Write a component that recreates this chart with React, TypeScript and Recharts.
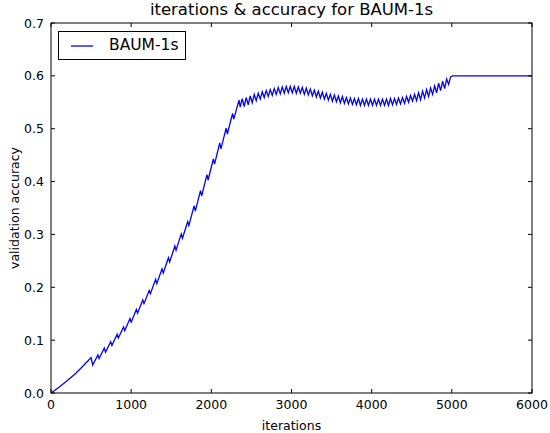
import { LineChart, Line, XAxis, YAxis } from 'recharts';

const FONT = '"DejaVu Sans", sans-serif';

// warm-up, before the zigzag starts
const warmupIters = [0, 100, 200, 300, 400, 500];
const warmupAcc = [0.0, 0.011, 0.023, 0.036, 0.051, 0.067];

// steep rise with sawtooth (trough, peak, trough, ...)
const riseIters = [
  520, 585, 600, 665, 680, 745, 760, 825, 840, 905, 920, 985, 1000, 1065, 1080, 1145,
  1160, 1225, 1240, 1305, 1320, 1385, 1400, 1465, 1480, 1545, 1560, 1625, 1640, 1705,
  1720, 1785, 1800, 1865, 1880, 1945, 1960, 2025, 2040, 2105, 2120, 2185, 2200, 2265,
  2280, 2345, 2360,
];
const riseAcc = [
  0.053, 0.072, 0.065, 0.085, 0.077, 0.097, 0.09, 0.111, 0.104, 0.125, 0.118, 0.141,
  0.134, 0.158, 0.151, 0.176, 0.169, 0.194, 0.188, 0.215, 0.207, 0.235, 0.227, 0.256,
  0.248, 0.278, 0.27, 0.301, 0.293, 0.324, 0.317, 0.354, 0.344, 0.383, 0.373, 0.413,
  0.403, 0.443, 0.433, 0.473, 0.462, 0.501, 0.49, 0.529, 0.518, 0.554, 0.541,
];

// plateau, fast oscillation
const plateauIters = [
  2385, 2410, 2435, 2460, 2485, 2510, 2535, 2560, 2585, 2610, 2635, 2660, 2685, 2710,
  2735, 2760, 2785, 2810, 2835, 2860, 2885, 2910, 2935, 2960, 2985, 3010, 3035, 3060,
  3085, 3110, 3135, 3160, 3185, 3210, 3235, 3260, 3285, 3310, 3335, 3360, 3385, 3410,
  3435, 3460, 3485, 3510, 3535, 3560, 3585, 3610, 3635, 3660, 3685, 3710, 3735, 3760,
  3785, 3810, 3835, 3860, 3885, 3910, 3935, 3960, 3985, 4010, 4035, 4060, 4085, 4110,
  4135, 4160, 4185, 4210, 4235, 4260, 4285, 4310, 4335, 4360, 4385, 4410, 4435, 4460,
  4485, 4510, 4535, 4560, 4585, 4610, 4635, 4660, 4685, 4710, 4735, 4760, 4785, 4810,
  4835, 4860, 4885, 4910, 4935, 4960, 4985,
];
const plateauAcc = [
  0.557, 0.542, 0.559, 0.545, 0.562, 0.549, 0.565, 0.553, 0.567, 0.556, 0.57, 0.559,
  0.572, 0.561, 0.574, 0.563, 0.576, 0.565, 0.578, 0.566, 0.579, 0.567, 0.58, 0.568,
  0.58, 0.568, 0.58, 0.567, 0.579, 0.567, 0.578, 0.565, 0.577, 0.564, 0.575, 0.562,
  0.573, 0.56, 0.571, 0.558, 0.569, 0.556, 0.567, 0.554, 0.565, 0.552, 0.564, 0.551,
  0.562, 0.549, 0.561, 0.548, 0.559, 0.547, 0.558, 0.546, 0.557, 0.545, 0.557, 0.544,
  0.556, 0.544, 0.556, 0.544, 0.556, 0.544, 0.556, 0.544, 0.556, 0.544, 0.556, 0.544,
  0.556, 0.544, 0.557, 0.545, 0.557, 0.546, 0.558, 0.547, 0.559, 0.548, 0.561, 0.55,
  0.563, 0.552, 0.565, 0.553, 0.568, 0.555, 0.571, 0.558, 0.574, 0.561, 0.577, 0.565,
  0.581, 0.568, 0.586, 0.572, 0.59, 0.576, 0.594, 0.584, 0.598,
];

// flat after 5000
const finalIters = [5010, 6000];
const finalAcc = [0.6, 0.6];

const xTicks = [0, 1000, 2000, 3000, 4000, 5000, 6000];
const yTicks = [0, 0.1, 0.2, 0.3, 0.4, 0.5, 0.6, 0.7];

const data = [
  ...warmupIters.map((it, i) => ({ iter: it, acc: warmupAcc[i] })),
  ...riseIters.map((it, i) => ({ iter: it, acc: riseAcc[i] })),
  ...plateauIters.map((it, i) => ({ iter: it, acc: plateauAcc[i] })),
  ...finalIters.map((it, i) => ({ iter: it, acc: finalAcc[i] })),
];

const TICK_LEN = 4;
const TICK_FONT = 12.5;

// matplotlib classic style: ticks point inwards, on all four sides
function makeTick(side: 'bottom' | 'top' | 'left' | 'right') {
  return (props: any) => {
    const { x, y, payload } = props;
    if (side === 'bottom') {
      return (
        <g>
          <line x1={x} y1={y} x2={x} y2={y - TICK_LEN} stroke="#000" strokeWidth={1} />
          <text x={x} y={y + 7} dy="0.71em" textAnchor="middle" fontSize={TICK_FONT} fontFamily={FONT} fill="#000">
            {payload.value}
          </text>
        </g>
      );
    }
    if (side === 'left') {
      return (
        <g>
          <line x1={x} y1={y} x2={x + TICK_LEN} y2={y} stroke="#000" strokeWidth={1} />
          <text x={x - 7} y={y} dy="0.36em" textAnchor="end" fontSize={TICK_FONT} fontFamily={FONT} fill="#000">
            {Number(payload.value).toFixed(1)}
          </text>
        </g>
      );
    }
    if (side === 'top') {
      return <line x1={x} y1={y} x2={x} y2={y + TICK_LEN} stroke="#000" strokeWidth={1} />;
    }
    return <line x1={x} y1={y} x2={x - TICK_LEN} y2={y} stroke="#000" strokeWidth={1} />;
  };
}

export default function App() {
  return (
    <div style={{ position: 'relative', width: 550, height: 433, background: '#fff' }}>
      <style>{`body { margin: 0; }`}</style>
      <LineChart width={550} height={433} data={data} margin={{ top: 22, right: 17, bottom: 0, left: 0 }}>
        <XAxis
          dataKey="iter"
          type="number"
          domain={[0, 6000]}
          ticks={xTicks}
          height={40}
          tickSize={0}
          tickMargin={0}
          tick={makeTick('bottom')}
          stroke="#000"
          label={{ value: 'iterations', position: 'insideBottom', offset: 3, fontSize: 12.5, fontFamily: FONT, fill: '#000' }}
        />
        <XAxis
          xAxisId="top"
          dataKey="iter"
          orientation="top"
          type="number"
          domain={[0, 6000]}
          ticks={xTicks}
          height={1}
          tickSize={0}
          tickMargin={0}
          tick={makeTick('top')}
          stroke="#000"
        />
        <YAxis
          type="number"
          domain={[0, 0.7]}
          ticks={yTicks}
          width={51}
          tickSize={0}
          tickMargin={0}
          tick={makeTick('left')}
          stroke="#000"
          label={{
            content: (p: any) => {
              const vb = p.viewBox;
              const cy = vb.y + vb.height / 2;
              return (
                <text x={14} y={cy} transform={`rotate(-90, 14, ${cy})`} textAnchor="middle" dy="0.36em" fontSize={12.5} fontFamily={FONT} fill="#000">
                  validation accuracy
                </text>
              );
            },
          }}
        />
        <YAxis
          yAxisId="right"
          orientation="right"
          type="number"
          domain={[0, 0.7]}
          ticks={yTicks}
          width={1}
          tickSize={0}
          tickMargin={0}
          tick={makeTick('right')}
          stroke="#000"
        />
        {/* invisible copy so the top/right frame axes get drawn */}
        <Line
          xAxisId="top"
          yAxisId="right"
          type="linear"
          dataKey="acc"
          stroke="none"
          dot={false}
          activeDot={false}
          isAnimationActive={false}
        />
        <Line
          type="linear"
          dataKey="acc"
          stroke="#0000ff"
          strokeWidth={1.3}
          dot={false}
          isAnimationActive={false}
        />
      </LineChart>
      <div
        style={{
          position: 'absolute',
          left: 51,
          width: 481,
          top: 2,
          textAlign: 'center',
          fontFamily: FONT,
          fontSize: 16.5,
          lineHeight: '16px',
          color: '#000',
        }}
      >
        iterations &amp; accuracy for BAUM-1s
      </div>
      <div
        style={{
          position: 'absolute',
          left: 58,
          top: 31,
          width: 126,
          height: 27,
          border: '1px solid #000',
          background: '#fff',
          fontFamily: FONT,
          fontSize: 15.5,
        }}
      >
        <svg width={40} height={27} style={{ position: 'absolute', left: 0, top: 0 }}>
          <line x1={12} y1={14} x2={34} y2={14} stroke="#0000ff" strokeWidth={1.3} />
        </svg>
        <span style={{ position: 'absolute', left: 50, top: 4, lineHeight: '18px' }}>BAUM-1s</span>
      </div>
    </div>
  );
}
